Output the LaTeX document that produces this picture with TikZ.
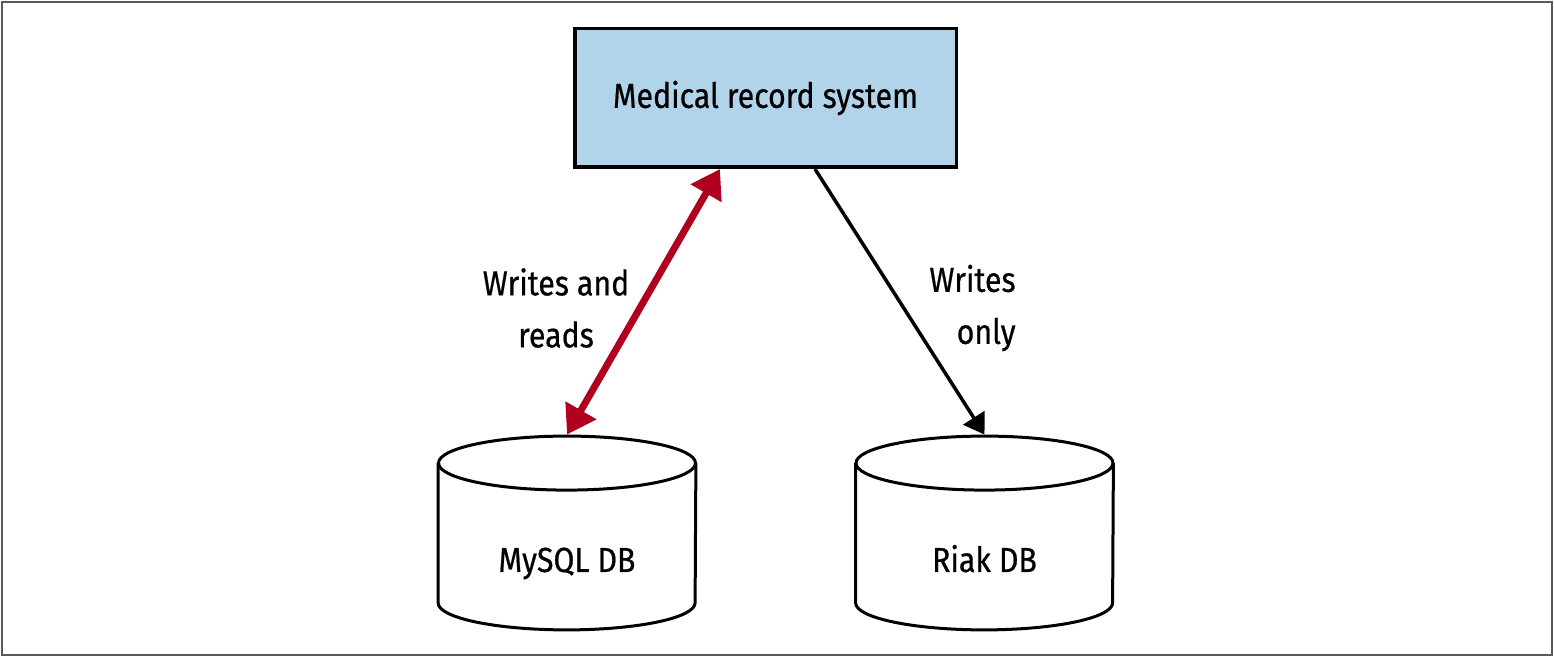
\documentclass[tikz,border=0pt]{standalone}
\usepackage{fontspec}
\setmainfont[FakeStretch=0.87,FakeBold=0.6]{Fira Sans}
\usetikzlibrary{arrows.meta,calc}
\definecolor{boxblue}{HTML}{B2D4EA}
\definecolor{arrowred}{HTML}{B0001F}
\definecolor{framegray}{HTML}{5A5A5A}
\begin{document}
\begin{tikzpicture}[
  txt/.style={font=\fontsize{17.4}{26}\selectfont},
  sysbox/.style={txt, draw=black, line width=1.75pt, fill=boxblue,
    minimum width=190.75pt, minimum height=69.25pt, inner sep=0pt},
  dbtext/.style={txt, draw=none, minimum width=128.5pt, minimum height=69.5pt,
    inner sep=0pt, text height=12pt, text depth=0pt},
  dbline/.style={draw=black, line width=1.5pt},
  lbl/.style={txt, inner sep=0pt},
  redarrow/.style={draw=arrowred, line width=3.5pt,
    {Triangle[length=14pt,width=17pt]}-{Triangle[length=14pt,width=17pt]}},
  blackarrow/.style={draw=black, line width=1.75pt,
    -{Triangle[length=10pt,width=12.5pt]}},
]
\useasboundingbox (0,0) rectangle (777pt,329pt);
\draw[framegray, line width=1pt] (0.9pt,1.3pt) rectangle (775.8pt,327.8pt);

\node[sysbox] (sys) at (382.75pt,280pt) {Medical record system};

% MySQL cylinder
\node[dbtext] (mysql) at (283.5pt,49pt) {MySQL DB};
\draw[dbline] ([yshift=13.5pt]mysql.north) ellipse [x radius=64.25pt, y radius=13.5pt];
\draw[dbline] ([yshift=13.5pt]mysql.north west) -- ([yshift=13.5pt]mysql.south west)
  arc[start angle=180, end angle=360, x radius=64.25pt, y radius=13.5pt]
  -- ([yshift=13.5pt]mysql.north east);
\coordinate (mysqltop) at ([yshift=27.75pt]mysql.north);

% Riak cylinder
\node[dbtext] (riak) at (492.25pt,49pt) {Riak DB};
\draw[dbline] ([yshift=13.5pt]riak.north) ellipse [x radius=64.25pt, y radius=13.5pt];
\draw[dbline] ([yshift=13.5pt]riak.north west) -- ([yshift=13.5pt]riak.south west)
  arc[start angle=180, end angle=360, x radius=64.25pt, y radius=13.5pt]
  -- ([yshift=13.5pt]riak.north east);
\coordinate (riaktop) at ([yshift=27.75pt]riak.north);

% connectors
\coordinate (sysredend) at ([xshift=-22.75pt]sys.south);
\coordinate (sysblackstart) at ([xshift=24.75pt]sys.south);
\draw[redarrow] (sysredend) -- (mysqltop);
\draw[blackarrow] (sysblackstart) -- (riaktop);

% labels
\node[lbl, align=center] (lblrw) at (278pt,175pt) {Writes and\\reads};
\node[lbl, align=right, anchor=east] (lblw) at (508pt,175pt) {Writes\\only};
\end{tikzpicture}
\end{document}
